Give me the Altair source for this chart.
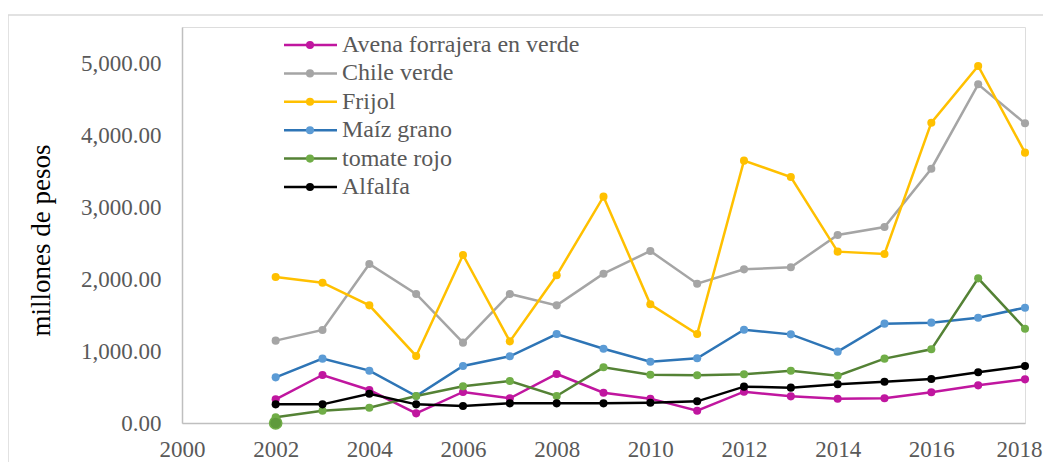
import altair as alt
import pandas as pd

years = list(range(2002, 2019))
series_names = ["Avena forrajera en verde", "Chile verde", "Frijol",
                "Maíz grano", "tomate rojo", "Alfalfa"]
avena = [329, 667, 458, 134, 431, 343, 681, 421, 338, 171, 435, 370, 338, 343, 426, 523, 606]
chile = [1144, 1292, 2208, 1792, 1116, 1792, 1634, 2074, 2389, 1935, 2134, 2162, 2611, 2722, 3532, 4704, 4162]
frijol = [2028, 1949, 1634, 931, 2333, 1134, 2051, 3144, 1648, 1236, 3644, 3417, 2380, 2347, 4171, 4958, 3755]
maiz = [634, 894, 727, 375, 792, 926, 1236, 1032, 852, 898, 1296, 1231, 991, 1380, 1394, 1463, 1602]
tomate = [79, 171, 213, 375, 509, 583, 375, 773, 671, 662, 676, 727, 657, 894, 1023, 2009, 1310]
alfalfa = [259, 259, 407, 259, 236, 273, 273, 273, 282, 301, 505, 491, 537, 574, 611, 704, 792]
# extra marker drawn at zero for tomate rojo in 2002
extra_year = [2002]
extra_value = [0]

line_colors = ["#c0169f", "#a5a5a5", "#ffc000", "#2e75b6", "#548235", "#000000"]
marker_colors = ["#c0169f", "#a5a5a5", "#ffc000", "#5b9bd5", "#70ad47", "#000000"]

x_ticks = list(range(2000, 2019, 2))
y_ticks = [0, 1000, 2000, 3000, 4000, 5000]

all_values = [avena, chile, frijol, maiz, tomate, alfalfa]

FONT = "Liberation Serif"
W, H = 843, 396

x_enc = alt.X("year:Q",
              scale=alt.Scale(domain=[2000, 2018], nice=False, zero=False),
              axis=alt.Axis(values=x_ticks, format="d", grid=False, ticks=False,
                            domainColor="#bfbfbf", domainWidth=1.5,
                            labelFont=FONT, labelFontSize=23, labelColor="#595959",
                            labelPadding=15, labelFlush=False, labelOverlap=False,
                            labelBound=False, title=None,
                            labelOffset={"condition": {"test": "datum.value == 2018", "value": -6},
                                         "value": 0}))
y_enc = alt.Y("value:Q",
              scale=alt.Scale(domain=[0, 5500], nice=False),
              axis=alt.Axis(values=y_ticks, format=",.2f", grid=False, ticks=False,
                            domainColor="#bfbfbf", domainWidth=1.5,
                            labelFont=FONT, labelFontSize=23, labelColor="#595959",
                            labelPadding=21, title="millones de pesos",
                            titleFont=FONT, titleFontSize=27, titleFontWeight="normal",
                            titleColor="#000000", titleAngle=270, titleX=-141, titleY=213,
                            titleAlign="center", titleBaseline="middle"))

layers = []

frame = alt.Chart(pd.DataFrame({"a": [0]})).mark_rect(
    fill="transparent", stroke="#d9d9d9", strokeWidth=1.5
).encode(x=alt.value(-174), x2=alt.value(W + 60), y=alt.value(-12), y2=alt.value(H + 80))
layers.append(frame)

for i, name in enumerate(series_names):
    df = pd.DataFrame({"year": years, "value": all_values[i]})
    base = alt.Chart(df)
    layers.append(base.mark_line(color=line_colors[i], strokeWidth=2.5).encode(x=x_enc, y=y_enc))
    layers.append(base.mark_point(filled=True, size=65, opacity=1,
                                  color=marker_colors[i]).encode(x=x_enc, y=y_enc))
    if name == "tomate rojo":
        dfe = pd.DataFrame({"year": extra_year, "value": extra_value})
        layers.append(alt.Chart(dfe).mark_point(filled=True, size=150, opacity=1,
                                                color="#5f9a3c", stroke="#70ad47",
                                                strokeWidth=1.5).encode(x=x_enc, y=y_enc))

leg = pd.DataFrame({"name": series_names, "idx": list(range(6)),
                    "lc": line_colors, "mc": marker_colors})
leg_base = alt.Chart(leg).transform_calculate(ly="18 + datum.idx * 28.4")
layers.append(leg_base.mark_rule(strokeWidth=2.5).encode(
    x=alt.value(102), x2=alt.value(155), y=alt.Y("ly:Q", scale=None),
    color=alt.Color("lc:N", scale=None)))
layers.append(leg_base.mark_point(filled=True, size=65, opacity=1).encode(
    x=alt.value(128), y=alt.Y("ly:Q", scale=None),
    color=alt.Color("mc:N", scale=None)))
layers.append(leg_base.mark_text(align="left", baseline="middle", font=FONT,
                                 fontSize=24, color="#595959").encode(
    x=alt.value(160), y=alt.Y("ly:Q", scale=None), text="name:N"))

chart = alt.layer(*layers).properties(
    width=W, height=H,
    autosize=alt.AutoSizeParams(type="none"),
    padding={"left": 174, "top": 19, "right": 18, "bottom": 39},
).configure_view(stroke=None).configure(background="white")

chart.save("out.html", embed_options={"renderer": "svg", "actions": False})
